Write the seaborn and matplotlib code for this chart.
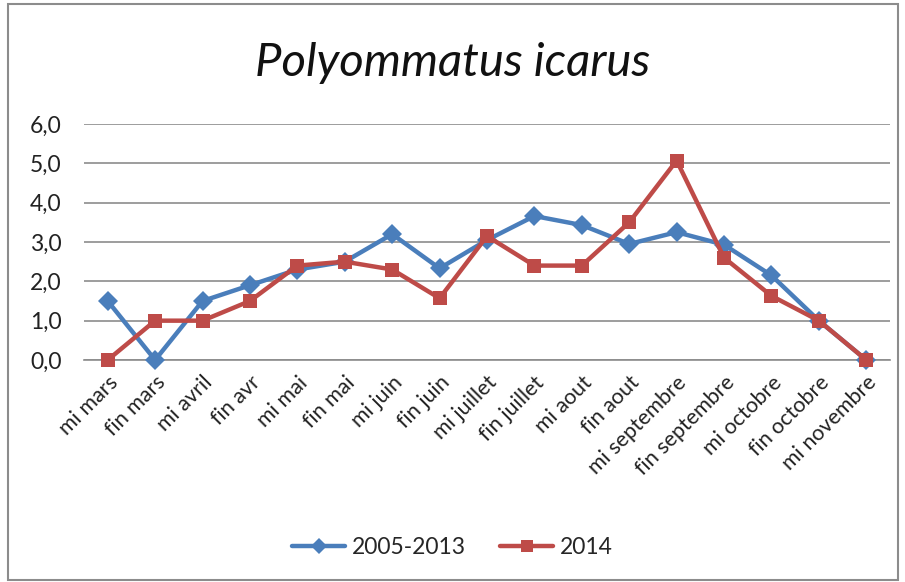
import matplotlib
matplotlib.use("Agg")
import matplotlib.pyplot as plt
import seaborn as sns
import pandas as pd
from matplotlib.patches import Rectangle
from matplotlib.ticker import FuncFormatter

categories = ["mi mars", "fin mars", "mi avril", "fin avr", "mi mai", "fin mai",
              "mi juin", "fin juin", "mi juillet", "fin juillet", "mi aout",
              "fin aout", "mi septembre", "fin septembre", "mi octobre",
              "fin octobre", "mi novembre"]
series_2005_2013 = [1.5, 0.0, 1.5, 1.9, 2.3, 2.5, 3.2, 2.33, 3.05, 3.66, 3.43,
                    2.95, 3.25, 2.93, 2.15, 1.0, 0.0]
series_2014 = [0.0, 1.0, 1.0, 1.5, 2.4, 2.5, 2.3, 1.57, 3.15, 2.4, 2.4,
               3.5, 5.07, 2.6, 1.63, 1.0, 0.0]
series_names = ["2005-2013", "2014"]
y_ticks = [0, 1, 2, 3, 4, 5, 6]

sns.set_style("white")
plt.rcParams['font.family'] = ['Lato', 'DejaVu Sans']

df = pd.DataFrame({
    "cat": categories * 2,
    "x": list(range(len(categories))) * 2,
    "value": series_2005_2013 + series_2014,
    "series": [series_names[0]] * len(categories) + [series_names[1]] * len(categories),
})

fig = plt.figure(figsize=(9.05, 5.82), dpi=100)
ax = fig.add_axes([84 / 905, 1 - 360 / 582, 806 / 905, 236 / 582])

palette = {series_names[0]: "#4a7ebb", series_names[1]: "#be4b48"}
sns.lineplot(data=df, x="x", y="value", hue="series", style="series",
             markers={series_names[0]: "D", series_names[1]: "s"},
             dashes=False, palette=palette, linewidth=3.2, markersize=10,
             markeredgewidth=0, ax=ax, clip_on=False, zorder=3)

ax.set_xlim(-0.5, len(categories) - 0.5)
ax.set_ylim(0, 6)
ax.set_yticks(y_ticks)
ax.yaxis.set_major_formatter(FuncFormatter(lambda v, p: f"{v:.1f}".replace(".", ",")))
ax.set_xticks(range(len(categories)))
ax.set_xticklabels(categories, rotation=45, ha="right", rotation_mode="anchor")
ax.tick_params(axis="x", labelsize=15.5, pad=9, length=0, colors="#222222")
ax.tick_params(axis="y", labelsize=16.5, pad=16, length=0, colors="#222222")
ax.yaxis.grid(True, color="#8c8c8c", linewidth=1.2)
ax.set_axisbelow(True)
for s in ["top", "right", "left"]:
    ax.spines[s].set_visible(False)
ax.spines["bottom"].set_color("#8c8c8c")
ax.spines["bottom"].set_linewidth(1.2)
ax.set_xlabel("")
ax.set_ylabel("")

fig.text(0.5, 1 - 63 / 582, "Polyommatus icarus", ha="center", va="center",
         fontsize=34, style="italic", color="#111111")

leg = ax.legend(loc="center", ncol=2, frameon=False,
                fontsize=16.5, handlelength=2.3, columnspacing=1.5,
                handletextpad=0.3, markerscale=0.8)
leg.set_bbox_to_anchor((0.5, 1 - 548 / 582), transform=fig.transFigure)

fig.patches.append(Rectangle((8 / 905, 2 / 582), 890 / 905, 576 / 582,
                             transform=fig.transFigure, fill=False,
                             edgecolor="#8c8c8c", linewidth=1.5))

fig.savefig("out.png", dpi=100)
